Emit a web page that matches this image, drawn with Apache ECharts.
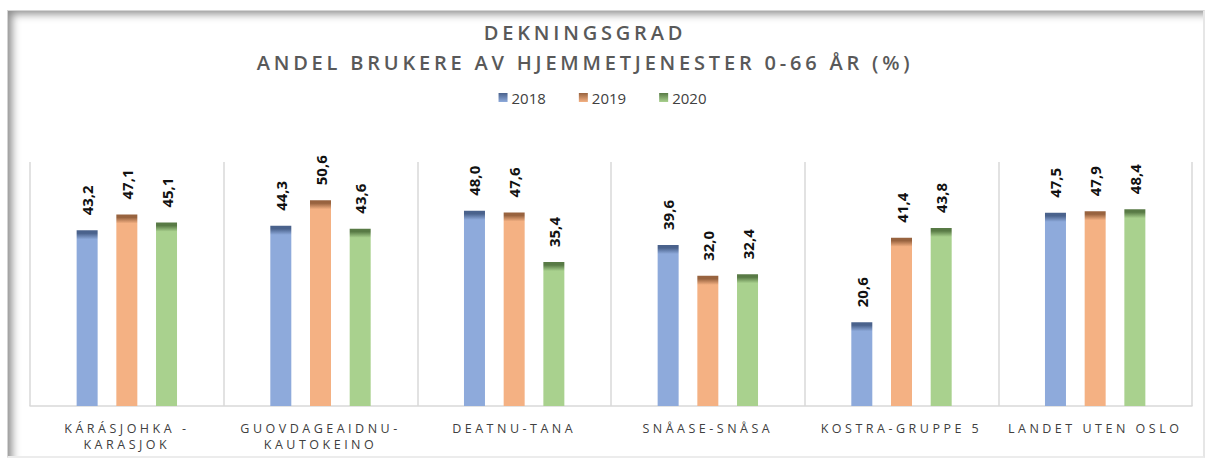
<!DOCTYPE html>
<html>
<head>
<meta charset="utf-8">
<script src="https://cdn.jsdelivr.net/npm/echarts@6/dist/echarts.min.js"></script>
<style>
  html, body { margin: 0; padding: 0; background: #ffffff; }
  #frame {
    position: absolute; left: 7px; top: 10px; width: 1195px; height: 445px;
    border: 1px solid #d4d4d4; border-right: 2px solid #e6e6e6; border-bottom: 2px solid #ececec;
    box-shadow: inset 9px 8px 9px -5px rgba(0,0,0,0.45);
    background: #ffffff;
  }
  #chart { position: absolute; left: 0; top: 0; width: 1205px; height: 461px; }
  text[style*="20px"] { letter-spacing: 3.8px; }
  text[style*="12.5px"] { letter-spacing: 3.5px; }
</style>
</head>
<body>
<div id="frame"></div>
<div id="chart"></div>
<script>
const categories = ['KÁRÁSJOHKA -\nKARASJOK', 'GUOVDAGEAIDNU-\nKAUTOKEINO', 'DEATNU-TANA', 'SNÅASE-SNÅSA', 'KOSTRA-GRUPPE 5', 'LANDET UTEN OSLO'];
const seriesNames = ['2018', '2019', '2020'];
const values2018 = [43.2, 44.3, 48.0, 39.6, 20.6, 47.5];
const values2019 = [47.1, 50.6, 47.6, 32.0, 41.4, 47.9];
const values2020 = [45.1, 43.6, 35.4, 32.4, 43.8, 48.4];
const yMax = 60;

const bodyColors = ['#8eaadb', '#f4b183', '#a9d18e'];
const topColors = ['#4a628c', '#98633f', '#587a45'];

const chart = echarts.init(document.getElementById('chart'), null, { renderer: 'svg' });
const plotHeight = 461 - 162 - 55;

function grad(i, v) {
  const h = v / yMax * plotHeight;
  const f1 = Math.min(0.3, 3 / h);
  const f2 = Math.min(0.5, 9 / h);
  return new echarts.graphic.LinearGradient(0, 0, 0, 1, [
    { offset: 0, color: topColors[i] },
    { offset: f1, color: topColors[i] },
    { offset: f2, color: bodyColors[i] },
    { offset: 1, color: bodyColors[i] }
  ]);
}

const allValues = [values2018, values2019, values2020];
const series = allValues.map((vals, i) => ({
  name: seriesNames[i],
  type: 'bar',
  barWidth: 21,
  barGap: '89%',
  itemStyle: { color: new echarts.graphic.LinearGradient(0, 0, 0, 1, [
    { offset: 0, color: topColors[i] }, { offset: 1, color: bodyColors[i] }]) },
  data: vals.map(v => ({ value: v, itemStyle: { color: grad(i, v) } })),
  label: {
    show: true,
    position: 'top',
    distance: 15,
    rotate: 90,
    align: 'left',
    verticalAlign: 'middle',
    fontFamily: 'Open Sans',
    fontWeight: 'bold',
    fontSize: 15,
    color: '#111111',
    formatter: p => p.value.toFixed(1).replace('.', ',')
  }
}));

chart.setOption({
  animation: false,
  backgroundColor: 'transparent',
  title: {
    text: 'DEKNINGSGRAD\nANDEL BRUKERE AV HJEMMETJENESTER 0-66 ÅR (%)',
    left: 580,
    top: 12,
    textAlign: 'center',
    textStyle: {
      fontFamily: 'Open Sans',
      fontSize: 20,
      fontWeight: 600,
      color: '#595959',
      lineHeight: 30
    }
  },
  legend: {
    top: 85,
    left: 'center',
    icon: 'rect',
    itemWidth: 9,
    itemHeight: 9,
    itemGap: 33,
    textStyle: { fontFamily: 'Open Sans', fontSize: 15, color: '#404040', padding: [0, 0, 0, -1] },
    data: seriesNames
  },
  grid: { left: 30, right: 13, top: 162, bottom: 55, containLabel: false },
  xAxis: {
    type: 'category',
    data: categories,
    axisLine: { show: true, lineStyle: { color: '#d9d9d9', width: 1.5 } },
    axisTick: { show: false },
    splitLine: { show: true, interval: 0, lineStyle: { color: '#d9d9d9', width: 1.5 } },
    axisLabel: {
      interval: 0,
      margin: 14,
      fontFamily: 'Open Sans',
      fontSize: 12.5,
      lineHeight: 16,
      color: '#404040'
    }
  },
  yAxis: {
    type: 'value',
    min: 0,
    max: yMax,
    show: false,
    splitLine: { show: false }
  },
  series: series
});
</script>
</body>
</html>
